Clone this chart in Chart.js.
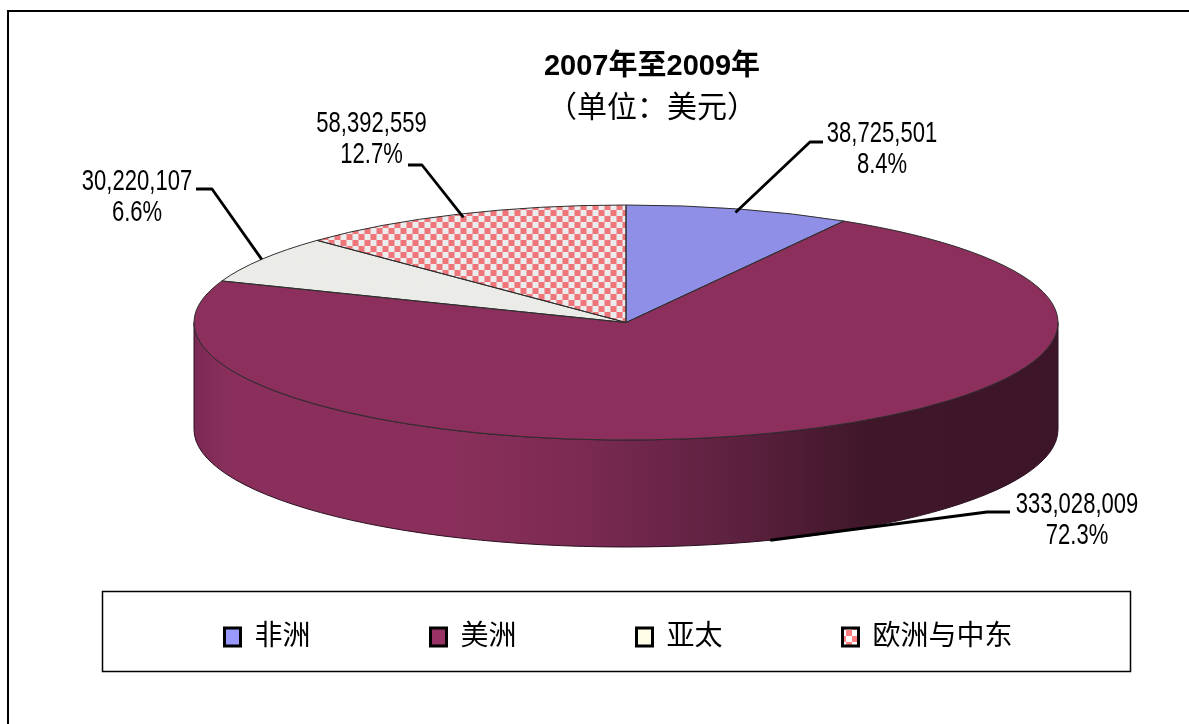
<!DOCTYPE html>
<html><head><meta charset="utf-8">
<style>html,body{margin:0;padding:0;background:#fff}canvas{display:block}</style>
<script src="https://cdn.jsdelivr.net/npm/chart.js@4"></script>
</head><body><canvas id="c" width="1189" height="724"></canvas>
<script>
const categories = ['非洲','美洲','亚太','欧洲与中东'];
const seriesValues = [38725501,333028009,30220107,58392559];
const percentLabels = ['8.4%','72.3%','6.6%','12.7%'];
const valueLabels = ['38,725,501','333,028,009','30,220,107','58,392,559'];
const titleText = '2007年至2009年';
const subtitleText = '（单位：美元）';

const CJK = '"Liberation Sans","Noto Sans CJK SC",sans-serif';
const PIE = {cx:626, top:205, bottom:440, rx:432, depth:107};
PIE.ry=(PIE.bottom-PIE.top)/2; PIE.cy=(PIE.top+PIE.bottom)/2; PIE.sx=PIE.rx/PIE.ry;
// label centre [x, first line y], line end next to text, elbow, radial factor, on lower rim
const LABELS = [
 {c:[882,134], s:[823,142], e:[810,142], f:0.97, low:false},
 {c:[1077,505], s:[1010,512], e:[987,512], f:1, low:true},
 {c:[137,182], s:[196,189], e:[212,189], f:1, low:false},
 {c:[371.5,124], s:[408,165], e:[422,165], f:0.97, low:false}
];
function tile(size,draw,m){
  const t=document.createElement('canvas');t.width=t.height=size;
  draw(t.getContext('2d'));
  const p=document.createElement('canvas').getContext('2d').createPattern(t,'repeat');
  if(m)p.setTransform(new DOMMatrix().scale(1/PIE.sx,1));
  return p;
}
const check=(a,b,n)=>g=>{g.fillStyle=b;g.fillRect(0,0,2*n,2*n);g.fillStyle=a;g.fillRect(0,0,n,n);g.fillRect(n,n,n,n);};
const dots=g=>{g.fillStyle='#ebebe9';g.fillRect(0,0,6,6);g.fillStyle='#eeeed6';g.fillRect(1,1,1,1);g.fillRect(4,4,1,1);};
const sliceFill=['#8f8fe8','#8c2f5c',tile(6,dots,true),tile(12,check('#ee7579','#ececec',6),true)];
const legendFill=['#9999ff','#993366','#fdfde8',tile(12,check('#ff8080','#ffffff',6),false)];

function transformPie(ctx){
  ctx.translate(PIE.cx,PIE.cy);ctx.scale(PIE.sx,1);ctx.translate(-PIE.cx,-PIE.cy);
}
const piePlugin={
  id:'pie3d',
  afterLayout(chart){
    const a=chart.chartArea;
    a.left=PIE.cx-PIE.ry;a.right=PIE.cx+PIE.ry;a.top=PIE.top;a.bottom=PIE.bottom;
    a.width=a.right-a.left;a.height=a.bottom-a.top;
    const place=(b,cx,cy)=>{const h=b.bottom-b.top;b.left=cx-594;b.right=cx+594;b.top=cy-h/2;b.bottom=cy+h/2;};
    place(chart.titleBlock,652,67);
    const sub=chart.boxes.find(b=>b!==chart.titleBlock&&b.options&&b.options.text===subtitleText);
    if(sub)place(sub,652,109);
    const lg=chart.legend;
    const h=lg.bottom-lg.top;
    const dx=(225+1012)/2-(lg.left+lg.right)/2;
    lg.left+=dx;lg.right+=dx;
    const dy=582-(lg.top+h/2);lg.top+=dy;lg.bottom+=dy;
  },
  beforeDraw(chart){
    const c=chart.ctx;c.save();
    c.strokeStyle='#000';c.lineWidth=2;
    c.beginPath();c.moveTo(8,724);c.lineTo(8,11);c.lineTo(1189,11);c.stroke();
    c.lineWidth=1.5;c.strokeRect(102.5,591.5,1028,80);
    c.restore();
  },
  beforeDatasetsDraw(chart){
    const c=chart.ctx,arcs=chart.getDatasetMeta(0).data,{cx,cy,rx,ry,depth}=PIE;
    c.save();
    const g=c.createLinearGradient(cx-rx,0,cx+rx,0);
    [[0,'#7a2a55'],[0.04,'#8a2f5b'],[0.3,'#8a2f5b'],[0.45,'#7b2a52'],[0.62,'#5e2140'],[0.78,'#3f1729'],[1,'#3d1528']].forEach(s=>g.addColorStop(s[0],s[1]));
    arcs.forEach(el=>{
      const p=el.getProps(['startAngle','endAngle']);
      const a=Math.max(p.startAngle,0),b=Math.min(p.endAngle,Math.PI);
      if(b<=a)return;
      c.beginPath();
      c.ellipse(cx,cy,rx,ry,0,a,b);
      c.ellipse(cx,cy+depth,rx,ry,0,b,a,true);
      c.closePath();
      c.fillStyle=g;c.fill();
      c.strokeStyle='#2a1020';c.lineWidth=1;c.stroke();
    });
    c.restore();
    c.save();transformPie(c);
  },
  afterDatasetsDraw(chart){
    const c=chart.ctx,arcs=chart.getDatasetMeta(0).data,{cx,cy,rx,ry,depth}=PIE;
    c.restore();
    c.save();
    arcs.forEach((el,i)=>{
      const p=el.getProps(['startAngle','endAngle']);
      c.beginPath();
      c.moveTo(cx,cy);
      c.ellipse(cx,cy,rx,ry,0,p.startAngle,p.endAngle);
      c.closePath();
      c.strokeStyle='#2e2e2e';c.lineWidth=1;c.stroke();
    });
    // leader lines
    c.strokeStyle='#000';c.lineWidth=2.8;c.lineJoin='round';
    arcs.forEach((el,i)=>{
      const p=el.getProps(['startAngle','endAngle']),m=(p.startAngle+p.endAngle)/2,L=LABELS[i];
      const ax=cx+Math.cos(m)*rx*L.f, ay=cy+Math.sin(m)*ry*L.f+(L.low?depth:0);
      c.beginPath();c.moveTo(L.s[0],L.s[1]);c.lineTo(L.e[0],L.e[1]);c.lineTo(ax,ay);c.stroke();
    });
    // labels
    c.fillStyle='#000';c.textAlign='center';c.textBaseline='middle';c.font='29px "Liberation Sans"';
    LABELS.forEach((L,i)=>{
      [valueLabels[i],percentLabels[i]].forEach((t,k)=>{
        c.save();c.translate(L.c[0],L.c[1]+k*30.5);c.scale(0.76,1);c.fillText(t,0,0);c.restore();
      });
    });
    c.restore();
  }
};
new Chart(document.getElementById('c'),{
  type:'pie',
  data:{labels:categories,datasets:[{data:seriesValues,backgroundColor:sliceFill,borderWidth:0,clip:false,hoverOffset:0}]},
  plugins:[piePlugin],
  options:{
    responsive:false,animation:false,
    events:[],
    layout:{padding:0},
    plugins:{
      tooltip:{enabled:false},
      title:{display:true,text:titleText,color:'#000',padding:0,font:{family:CJK,size:29,weight:'bold'}},
      subtitle:{display:true,text:subtitleText,color:'#000',padding:0,font:{family:CJK,size:30,weight:'normal'}},
      legend:{display:true,position:'bottom',maxWidth:1189,
        labels:{color:'#000',font:{family:CJK,size:28},boxWidth:16,boxHeight:18,padding:120,
          generateLabels(){return categories.map((t,i)=>({text:t,fillStyle:legendFill[i],strokeStyle:'#000',lineWidth:3,index:i,hidden:false}));}
        }
      }
    }
  }
});
</script></body></html>
